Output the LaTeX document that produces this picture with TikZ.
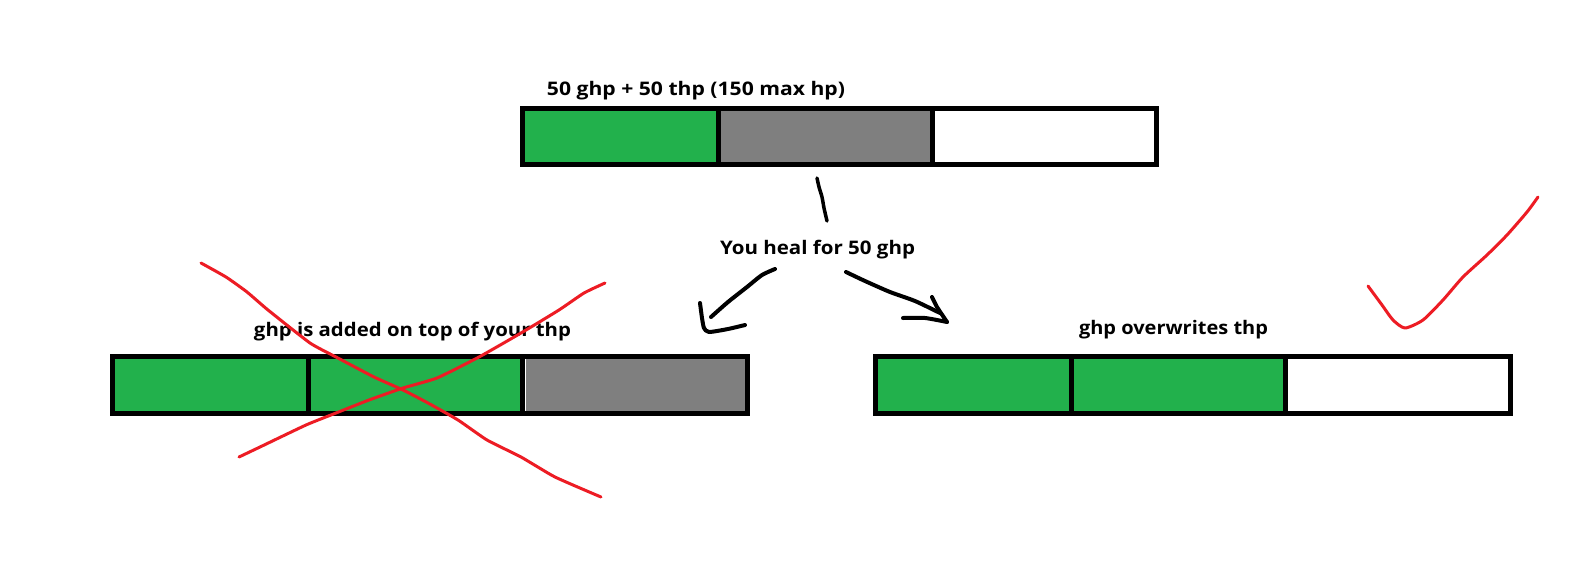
\documentclass[tikz,border=0pt]{standalone}
\usepackage{fontspec}
\setmainfont{Open Sans}
\definecolor{hpgreen}{HTML}{22B14C}
\definecolor{hpgray}{HTML}{7F7F7F}
\definecolor{inkred}{HTML}{ED1C24}
\newcommand{\fitw}[2]{\resizebox{#1pt}{\height}{#2}}
\begin{document}
\begin{tikzpicture}[x=1pt,y=-1pt,
  seg/.style={draw=black, line width=5pt, rectangle, inner sep=0pt, outer sep=0pt, minimum height=56pt, anchor=north west},
  lbl/.style={font=\fontsize{18.7}{20}\selectfont\bfseries, inner sep=0pt, anchor=base},
  ink/.style={draw=black, line width=4pt, line cap=round, line join=round},
  redink/.style={draw=inkred, line width=3pt, line cap=round, line join=round}]
\useasboundingbox (0,0) rectangle (1596,574);
\fill[white] (0,0) rectangle (1596,574);

% top bar
\node[seg, fill=hpgreen, minimum width=196pt] (t1) at (522.5,108.5) {};
\node[seg, fill=hpgray, minimum width=214pt] (t2) at (718.5,108.5) {};
\node[seg, fill=white, minimum width=224pt] (t3) at (932.5,108.5) {};
\node[lbl] (title) at (696,95) {\fitw{298}{50 ghp + 50 thp (150 max hp)}};

% left bar
\node[seg, fill=hpgreen, minimum width=196pt, minimum height=57pt] (l1) at (112.5,356.5) {};
\node[seg, fill=hpgreen, minimum width=214pt, minimum height=57pt] (l2) at (308.5,356.5) {};
\node[seg, fill=hpgray, minimum width=225pt, minimum height=57pt] (l3) at (522.5,356.5) {};
\draw[white, line width=1pt] (525.5,359) -- (525.5,411);
\node[lbl] (ltext) at (412.5,336) {\fitw{317}{ghp is added on top of your thp}};

% right bar
\node[seg, fill=hpgreen, minimum width=196pt, minimum height=57pt] (r1) at (875.5,356.5) {};
\node[seg, fill=hpgreen, minimum width=214pt, minimum height=57pt] (r2) at (1071.5,356.5) {};
\node[seg, fill=white, minimum width=225pt, minimum height=57pt] (r3) at (1285.5,356.5) {};
\node[lbl] (rtext) at (1173.5,334) {\fitw{189}{ghp overwrites thp}};

% heal text
\node[lbl] (heal) at (817.5,254) {\fitw{195}{You heal for 50 ghp}};

% connectors
\coordinate (sqA) at (817,178);
\coordinate (sqB) at (827,221);
\draw[ink, line width=3.5pt] plot[smooth, tension=0.4] coordinates {(sqA) (819,187) (822,197) (824,208) (sqB)};

\coordinate (laS) at (775,269);
\coordinate (laE) at (711,317);
\draw[ink] plot[smooth, tension=0.4] coordinates {(laS) (762,275) (747,287) (728,302) (laE)};
\draw[ink] plot[smooth, tension=0.4] coordinates {(700,303) (702,318) (704,328) (709,332) (728,329) (745,325)};

\coordinate (raS) at (846,272);
\coordinate (raE) at (940,313);
\draw[ink] plot[smooth, tension=0.4] coordinates {(raS) (865,281) (890,292) (915,301) (raE)};
\draw[ink] plot[smooth, tension=0.4] coordinates {(932,297) (937,307) (947,322)};
\draw[ink] plot[smooth, tension=0.4] coordinates {(903,318) (925,318) (947,322)};

% red cross
\draw[redink] plot[smooth, tension=0.3] coordinates {(201,263) (226,277) (247,292) (268,310) (310,343) (336,357) (374,377) (403,390) (428,403) (458,420) (487,440) (521,457) (555,477) (601,497)};
\draw[redink] plot[smooth, tension=0.3] coordinates {(239,457) (260,447) (306,425) (336,413) (369,400) (403,388) (437,378) (479,357) (521,333) (559,310) (584,293) (605,283)};

% red check
\draw[redink] plot[smooth, tension=0.4] coordinates {(1368,286) (1382,305) (1393,320) (1405,328) (1423,320) (1443,300) (1463,277) (1487,255) (1507,235) (1527,212) (1538,197)};
\end{tikzpicture}
\end{document}
